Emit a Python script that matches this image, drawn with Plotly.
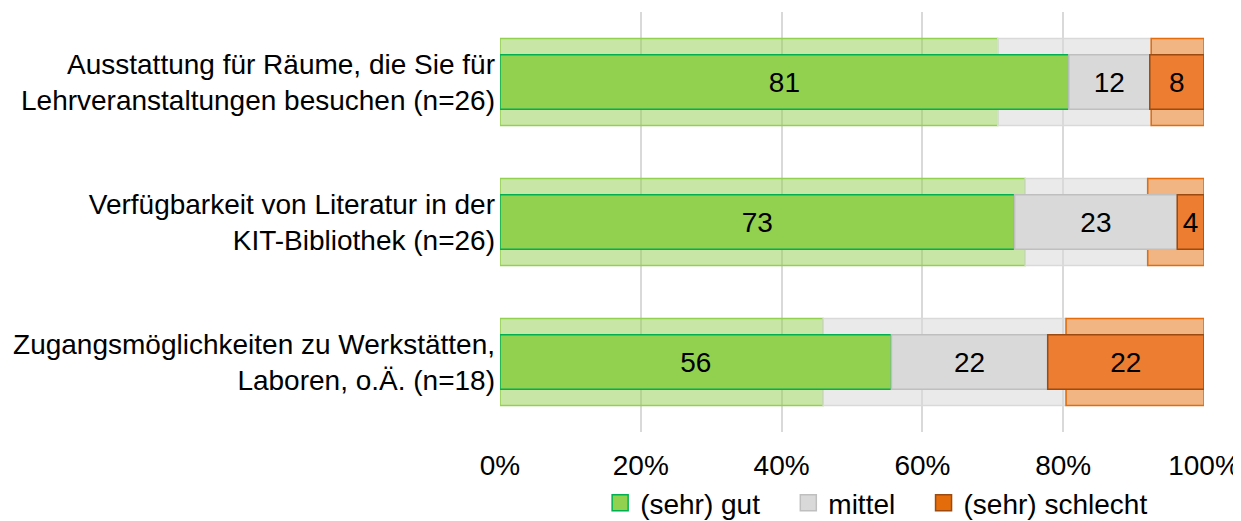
import plotly.graph_objects as go
import numpy as np

categories = [
    "Ausstattung für Räume, die Sie für<br>Lehrveranstaltungen besuchen (n=26)",
    "Verfügbarkeit von Literatur in der<br>KIT-Bibliothek (n=26)",
    "Zugangsmöglichkeiten zu Werkstätten,<br>Laboren, o.Ä. (n=18)",
]
series_names = ["(sehr) gut", "mittel", "(sehr) schlecht"]

# foreground (current) values in %
gut = [80.8, 73.1, 55.6]
mittel = [11.5, 23.1, 22.2]
schlecht = [7.7, 3.8, 22.2]

# background (comparison) values in %
bg_gut = [70.7, 74.6, 45.9]
bg_mittel = [21.8, 17.4, 34.5]
bg_schlecht = [7.5, 8.0, 19.6]

tick_vals = [0, 20, 40, 60, 80, 100]
tick_text = ["0%", "20%", "40%", "60%", "80%", "100%"]

FONT = "Liberation Sans, Arial, sans-serif"
FS = 28

fg_fill = ["#92D050", "#D9D9D9", "#ED7D31"]
fg_line = ["#00B050", "#BFBFBF", "#9C4A0F"]
bg_fill = ["rgba(146,208,80,0.5)", "rgba(217,217,217,0.55)", "rgba(228,108,10,0.5)"]
bg_line = ["#92D050", "#D9D9D9", "#E46C0A"]
legend_fill = ["#92D050", "#D9D9D9", "#E46C0A"]

fig = go.Figure()

bg_sets = [bg_gut, bg_mittel, bg_schlecht]
fg_sets = [gut, mittel, schlecht]

bg_base = np.zeros(len(categories))
for i, vals in enumerate(bg_sets):
    fig.add_trace(go.Bar(
        y=categories, x=vals, base=bg_base.copy(), orientation="h",
        width=0.62, marker=dict(color=bg_fill[i], line=dict(color=bg_line[i], width=1.5)),
        showlegend=False, hoverinfo="skip",
    ))
    bg_base += np.array(vals)

fg_base = np.zeros(len(categories))
for i, vals in enumerate(fg_sets):
    fig.add_trace(go.Bar(
        y=categories, x=vals, base=fg_base.copy(), orientation="h",
        width=0.39, name=series_names[i],
        marker=dict(color=fg_fill[i], line=dict(color=fg_line[i], width=1.5)),
        text=[f"{v:.0f}" for v in vals], textposition="inside",
        insidetextanchor="middle", textangle=0, constraintext="none",
        textfont=dict(family=FONT, size=FS, color="black"),
        showlegend=False,
    ))
    fg_base += np.array(vals)

# legend entries (non-breaking spaces widen the gap between entries)
pad = "\u00a0\u00a0\u00a0"
for i in range(3):
    fig.add_trace(go.Scatter(
        y=[None], x=[None], mode="markers",
        name=series_names[i] + (pad if i < 2 else ""),
        marker=dict(symbol="square", size=16, color=legend_fill[i],
                    line=dict(color=fg_line[i], width=1.5)),
        showlegend=True,
    ))

fig.update_layout(
    barmode="overlay",
    width=1233, height=513,
    margin=dict(l=492, r=37, t=4, b=89, autoexpand=False),
    paper_bgcolor="white", plot_bgcolor="white",
    font=dict(family=FONT, size=FS, color="black"),
    legend=dict(orientation="h", x=0.535, xanchor="center", y=-0.169, yanchor="middle",
                font=dict(size=FS), traceorder="normal"),
    xaxis=dict(range=[0, 100], tickvals=tick_vals, ticktext=tick_text,
               showgrid=True, gridcolor="#D9D9D9", gridwidth=2, zeroline=False,
               showline=False, ticks="", ticklabelstandoff=14, automargin=False),
    yaxis=dict(categoryorder="array", categoryarray=categories, autorange="reversed",
               showgrid=False, ticks="", showline=False, ticklabelstandoff=4, automargin=False),
)

fig.write_html("out.html")
